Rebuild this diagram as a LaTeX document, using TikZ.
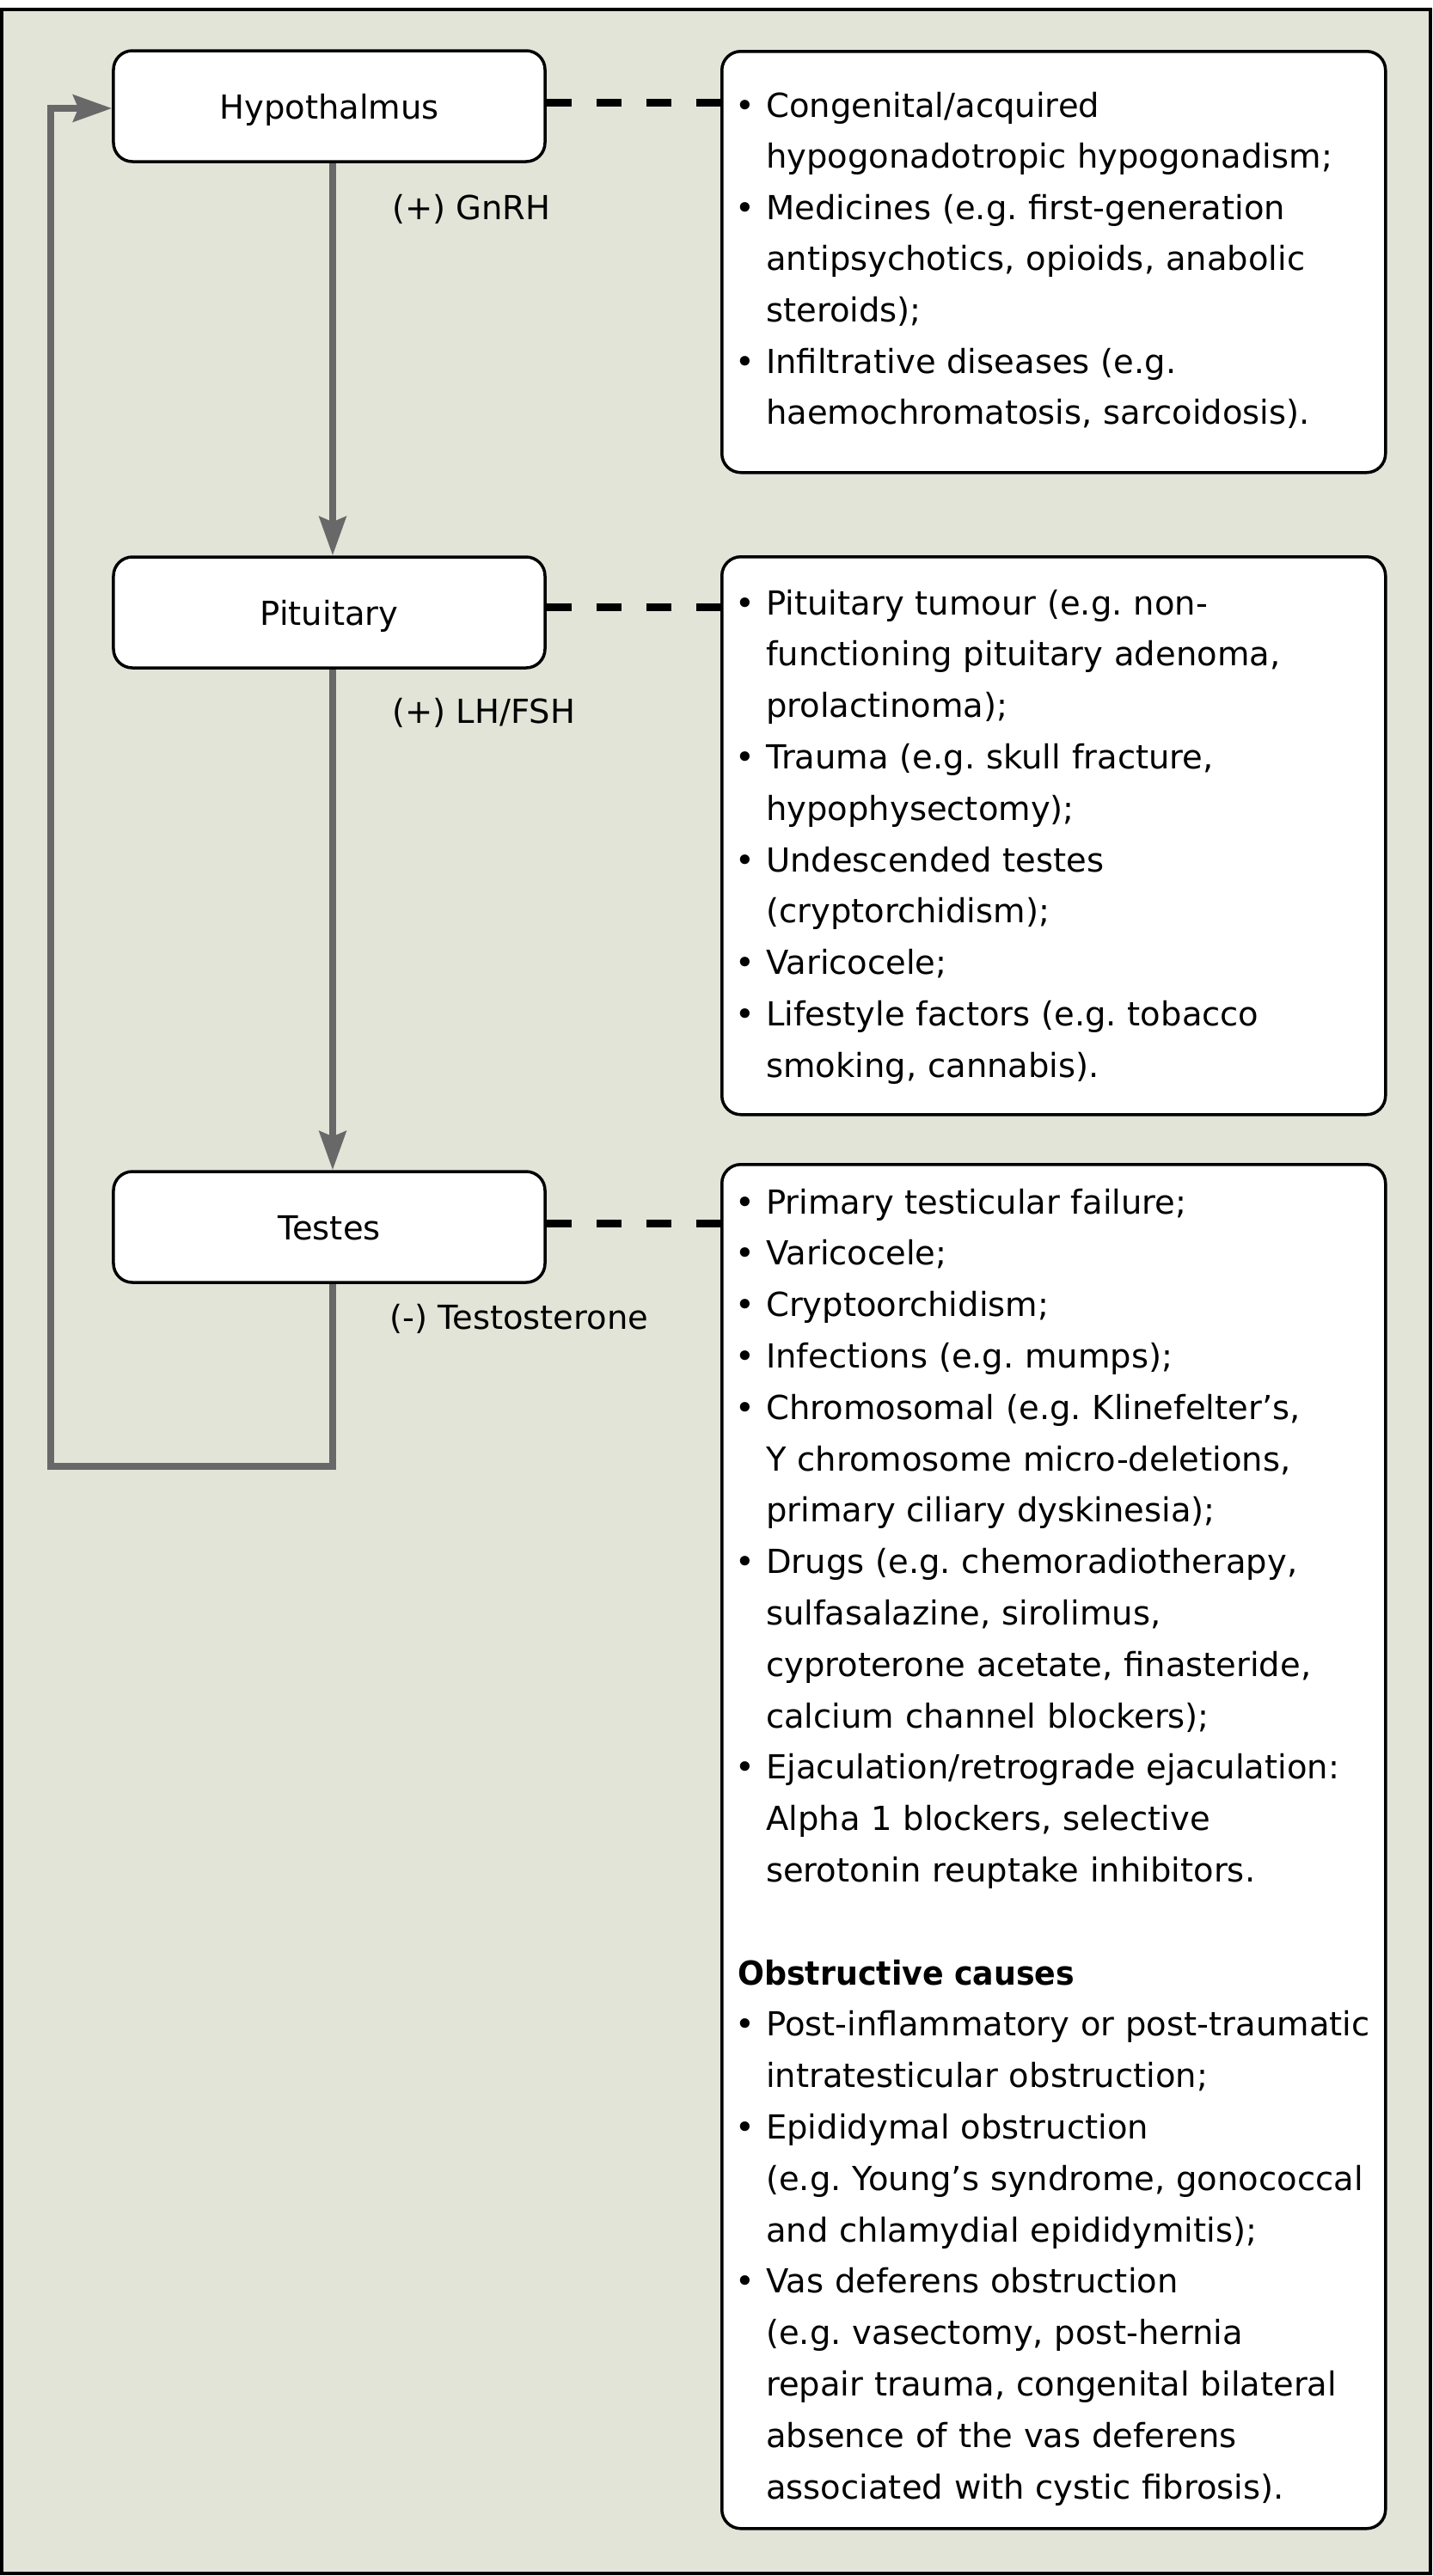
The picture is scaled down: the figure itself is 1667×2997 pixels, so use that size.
\documentclass[tikz,border=0pt]{standalone}
\usepackage{fontspec}
\usepackage{graphicx}
\setmainfont{DejaVu Sans}
\usetikzlibrary{arrows.meta}
\definecolor{bgc}{RGB}{225,228,215}
\definecolor{conncol}{RGB}{104,104,104}
\newcommand\fsz{\fontsize{38.5bp}{59.8bp}\selectfont}
\newcommand\blf{\hangindent=33bp\hangafter=1\noindent\makebox[33bp][l]{\hspace{-3bp}\textbullet}}
\newcommand\bl{\par\blf}
\newcommand\nl{\newline}
\begin{document}
\frenchspacing
\begin{tikzpicture}[x=1bp,y=-1bp,
  lbox/.style={draw=black, line width=3.5bp, fill=white, rounded corners=22bp,
    minimum width=502bp, minimum height=129bp, inner sep=0pt, font=\fsz,
    text height=30bp, text depth=0bp},
  rbox/.style={draw=black, line width=3.5bp, fill=white, rounded corners=22bp,
    anchor=north west, inner sep=0pt, minimum width=772bp},
  rtext/.style={anchor=base west, inner sep=0pt, text width=800bp, font=\fsz},
  lab/.style={anchor=base west, inner sep=0pt, font=\fsz},
  flow/.style={draw=conncol, line width=8bp},
  tip/.style={-{Stealth[length=45bp,width=31bp,inset=6bp]}},
  dashline/.style={draw=black, line width=9.5bp, dash pattern=on 29bp off 29bp}
]
\useasboundingbox (0,0) rectangle (1667,2997);
\draw[line width=4bp, fill=bgc] (2,11) rectangle (1664,2994);

% left boxes
\node[lbox] (hyp) at (383,123.5) {Hypothalmus};
\node[lbox] (pit) at (383,712.5) {Pituitary};
\node[lbox] (tes) at (383,1427.5) {Testes};

% right boxes
\node[rbox, minimum height=490bp] (c1) at (838,58) {};
\node[rbox, minimum height=649bp] (c2) at (838,646) {};
\node[rbox, minimum height=1587bp] (c3) at (838,1353) {};

\node[rtext] (t1) at (858,136) {\fontsize{38.5bp}{59.6bp}\selectfont\raggedright%
\blf Congenital/acquired\nl hypogonadotropic hypogonadism;
\bl Medicines (e.g. first-generation\nl antipsychotics, opioids, anabolic\nl steroids);
\bl Infiltrative diseases (e.g.\nl haemochromatosis, sarcoidosis).\par};

\node[rtext] (t2) at (858,715) {\fsz\raggedright%
\blf Pituitary tumour (e.g. non-\nl functioning pituitary adenoma,\nl prolactinoma);
\bl Trauma (e.g. skull fracture,\nl hypophysectomy);
\bl Undescended testes\nl (cryptorchidism);
\bl Varicocele;
\bl Lifestyle factors (e.g. tobacco\nl smoking, cannabis).\par};

\node[rtext] (t3) at (858,1412) {\fsz\raggedright%
\blf Primary testicular failure;
\bl Varicocele;
\bl Cryptoorchidism;
\bl Infections (e.g. mumps);
\bl Chromosomal (e.g. Klinefelter’s,\nl Y chromosome micro-deletions,\nl primary ciliary dyskinesia);
\bl Drugs (e.g. chemoradiotherapy,\nl sulfasalazine, sirolimus,\nl cyproterone acetate, finasteride,\nl calcium channel blockers);
\bl Ejaculation/retrograde ejaculation:\nl Alpha 1 blockers, selective\nl serotonin reuptake inhibitors.
\par\vskip59.8bp
\noindent\scalebox{0.945}[1]{\bfseries Obstructive causes}
\bl Post-inflammatory or post-traumatic\nl intratesticular obstruction;
\bl Epididymal obstruction\nl (e.g. Young’s syndrome, gonococcal\nl and chlamydial epididymitis);
\bl Vas deferens obstruction\nl (e.g. vasectomy, post-hernia\nl repair trauma, congenital bilateral\nl absence of the vas deferens\nl associated with cystic fibrosis).\par};

% labels
\node[lab] (l1) at (456,255) {(+) GnRH};
\node[lab] (l2) at (456,841) {(+) LH/FSH};
\node[lab] (l3) at (453,1546) {(-) Testosterone};

% connectors
\draw[flow,tip] ([xshift=4bp]hyp.south) -- ([xshift=4bp]pit.north);
\draw[flow,tip] ([xshift=4bp]pit.south) -- ([xshift=4bp]tes.north);
\coordinate (lb) at (59,1706);
\coordinate (lt) at (59,126);
\draw[flow,tip] ([xshift=4bp]tes.south) |- (lb) -- (lt) -- (lt -| hyp.west);

\draw[dashline] ([yshift=4bp]hyp.east) -- ([yshift=4bp]hyp.east -| c1.west);
\draw[dashline] ([yshift=6bp]pit.east) -- ([yshift=6bp]pit.east -| c2.west);
\draw[dashline] ([yshift=4bp]tes.east) -- ([yshift=4bp]tes.east -| c3.west);
\end{tikzpicture}
\end{document}
